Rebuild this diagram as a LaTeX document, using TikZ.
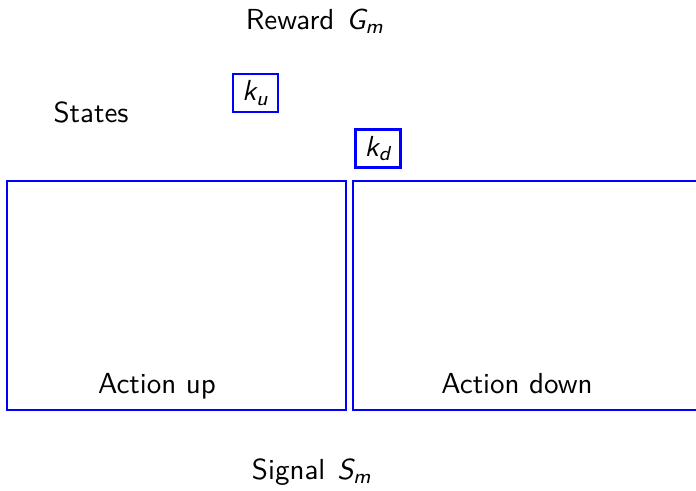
\documentclass[tikz,border=0pt]{standalone}
\usepackage{amsmath}
\usepackage{fontspec}
\newcommand\mvar[1]{\textit{#1}}
\tikzset{
  panel/.style={draw=blue, line width=0.75pt, rectangle, inner sep=0pt, minimum height=79pt},
  kbox/.style={draw=blue, line width=0.75pt, rectangle, inner sep=0pt, minimum width=15.5pt, minimum height=13.1pt},
  lbl/.style={inner sep=0pt, font=\sffamily, anchor=base}
}
\begin{document}
\begin{tikzpicture}[x=0.345pt, y=-0.345pt, font=\sffamily]
\path[use as bounding box] (0,0) rectangle (696,490);
\clip (0,0) rectangle (696,490);
\node[lbl] (reward) at (315,29) {Reward\hspace{0.8pt}\ $\mvar{G}_{\mvar{m}}$};
\node[lbl] (states) at (91,122) {States};
\node[kbox] (ku) at (255.5,93) {$\mvar{k}_{\mvar{u}}$};
\node[kbox] (kd) at (378,148.5) {$\mvar{k}_{\mvar{d}}$};
\node[panel, minimum width=116.96pt] (up) at (176.5,295.5) {};
\node[panel, minimum width=241.5pt] (down) at (703,295.5) {};
\node[lbl] (upl) at (157,393) {Action up};
\node[lbl] (downl) at (517,393) {Action down};
\node[lbl] (signal) at (312,479) {Signal\hspace{0.8pt}\ $\mvar{S}_{\mvar{m}}$};
\end{tikzpicture}
\end{document}
